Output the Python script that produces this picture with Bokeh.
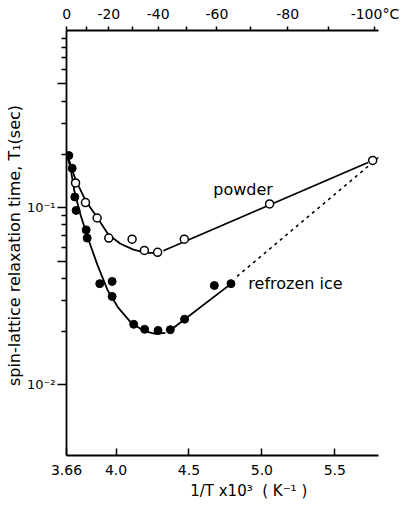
from bokeh.plotting import figure
from bokeh.models import (Range1d, FixedTicker, LinearAxis, Label)
from bokeh.embed import file_html
from bokeh.resources import INLINE

# ---- data ----
powder_x = [3.722, 3.790, 3.870, 3.950, 4.110, 4.194, 4.285, 4.468, 5.053, 5.760]
powder_y = [0.138, 0.107, 0.0875, 0.0674, 0.0665, 0.0574, 0.0560, 0.0665, 0.105, 0.185]

ice_x = [3.676, 3.699, 3.717, 3.726, 3.795, 3.802, 3.888, 3.973, 3.973,
         4.121, 4.196, 4.288, 4.372, 4.470, 4.674, 4.788]
ice_y = [0.197, 0.167, 0.115, 0.0966, 0.075, 0.0674, 0.0373, 0.0384, 0.0316,
         0.0220, 0.0206, 0.0203, 0.0205, 0.0235, 0.0364, 0.0373]

powder_curve1_x = [3.66, 3.722, 3.79, 3.872, 3.948, 4.03, 4.119, 4.208, 4.27]
powder_curve1_y = [0.205, 0.144, 0.11, 0.0878, 0.0704, 0.0626, 0.058, 0.0557, 0.0557]
powder_curve2_x = [4.324, 5.728]
powder_curve2_y = [0.0572, 0.18]

ice_curve1_x = [3.66, 3.687, 3.715, 3.756, 3.811, 3.872, 3.941, 4.016, 4.098, 4.187, 4.27, 4.338]
ice_curve1_y = [0.20, 0.169, 0.123, 0.0913, 0.066, 0.0476, 0.0344, 0.0272, 0.0227, 0.0202, 0.0194, 0.0197]
ice_curve2_x = [4.37, 4.79]
ice_curve2_y = [0.0203, 0.0373]

extrap_x = [4.83, 5.81]
extrap_y = [0.041, 0.195]

xtick_values = [3.66, 4.0, 4.5, 5.0, 5.5]
xtick_labels = ["3.66", "4.0", "4.5", "5.0", "5.5"]

ytick_values = [0.01, 0.05, 0.1, 0.5]
ytick_labels = ["10\u207b\u00b2", "", "10\u207b\u00b9", ""]
ytick_minor = [0.02, 0.03, 0.04, 0.06, 0.07, 0.08, 0.09,
               0.2, 0.3, 0.4, 0.6, 0.7, 0.8, 0.9]

temp_major = [0, -20, -40, -60, -80, -100]
temp_labels = ["0", "-20", "-40", "-60", "-80", "-100\u00b0C"]
temp_minor = [-10, -30, -50, -70, -90]

FONT = "DejaVu Sans"

W, H = 403, 505
p = figure(width=W, height=H, output_backend="svg", toolbar_location=None,
           y_axis_type="log",
           x_range=Range1d(3.66, 5.80), y_range=Range1d(0.004, 1.0),
           min_border_left=66, min_border_right=W - 378,
           min_border_top=30, min_border_bottom=H - 455)
p.outline_line_color = None
p.xgrid.visible = False
p.ygrid.visible = False
p.background_fill_color = "white"
p.border_fill_color = "white"

# curves
p.line(powder_curve1_x, powder_curve1_y, line_color="black", line_width=1.8)
p.line(powder_curve2_x, powder_curve2_y, line_color="black", line_width=1.8)
p.line(ice_curve1_x, ice_curve1_y, line_color="black", line_width=1.8)
p.line(ice_curve2_x, ice_curve2_y, line_color="black", line_width=1.8)
p.line(extrap_x, extrap_y, line_color="black", line_width=1.5, line_dash="3 4")

# points
p.scatter(powder_x, powder_y, marker="circle", size=8, fill_color="white",
          line_color="black", line_width=1.5)
p.scatter(ice_x, ice_y, marker="circle", size=8, fill_color="black",
          line_color="black")

# bottom axis
xa = p.xaxis[0]
xa.ticker = FixedTicker(ticks=xtick_values, minor_ticks=[])
xa.major_label_overrides = {v: l for v, l in zip(xtick_values, xtick_labels)}
xa.axis_label = "\u00a0" * 11 + "1/T x10\u00b3 \u00a0( K\u207b\u00b9 )"
xa.major_tick_in = 7
xa.major_tick_out = 0
xa.minor_tick_in = 0
xa.minor_tick_out = 0
xa.major_label_standoff = 9
xa.axis_label_standoff = 4

# left axis
ya = p.yaxis[0]
ya.ticker = FixedTicker(ticks=ytick_values, minor_ticks=ytick_minor)
ya.major_label_overrides = {v: l for v, l in zip(ytick_values, ytick_labels)}
ya.axis_label = "spin-lattice relaxation time,  T\u2081(sec)"
ya.major_tick_in = 0
ya.major_tick_out = 9
ya.minor_tick_in = 0
ya.minor_tick_out = 5
ya.major_label_standoff = 2
ya.axis_label_standoff = 0

# top axis (temperature)
top_pos = [1000.0 / (273.15 + t) for t in temp_major]
top_minor = [1000.0 / (273.15 + t) for t in temp_minor]
ta = LinearAxis(ticker=FixedTicker(ticks=top_pos, minor_ticks=top_minor))
ta.major_label_overrides = {v: l for v, l in zip(top_pos, temp_labels)}
ta.major_tick_in = 0
ta.major_tick_out = 4
ta.minor_tick_in = 0
ta.minor_tick_out = 4
ta.major_label_standoff = 5
p.add_layout(ta, "above")

for ax in [xa, ya, ta]:
    ax.axis_line_color = "black"
    ax.axis_line_width = 1.8
    ax.major_tick_line_color = "black"
    ax.major_tick_line_width = 1.5
    ax.minor_tick_line_color = "black"
    ax.minor_tick_line_width = 1.5
    ax.major_label_text_font = FONT
    ax.major_label_text_font_size = "14px"
    ax.major_label_text_color = "black"
    ax.axis_label_text_font = FONT
    ax.axis_label_text_font_size = "15px"
    ax.axis_label_text_font_style = "normal"
    ax.axis_label_text_color = "black"
ya.axis_label_text_font_size = "16px"
ya.major_label_text_font_size = "13px"

# series labels
p.add_layout(Label(x=4.667, y=0.126, text="powder", text_font=FONT,
                   text_font_size="16px", text_baseline="middle",
                   text_color="black"))
p.add_layout(Label(x=4.907, y=0.0372, text="refrozen ice", text_font=FONT,
                   text_font_size="16px", text_baseline="middle",
                   text_color="black"))

open("out.html", "w").write(file_html(p, INLINE))
